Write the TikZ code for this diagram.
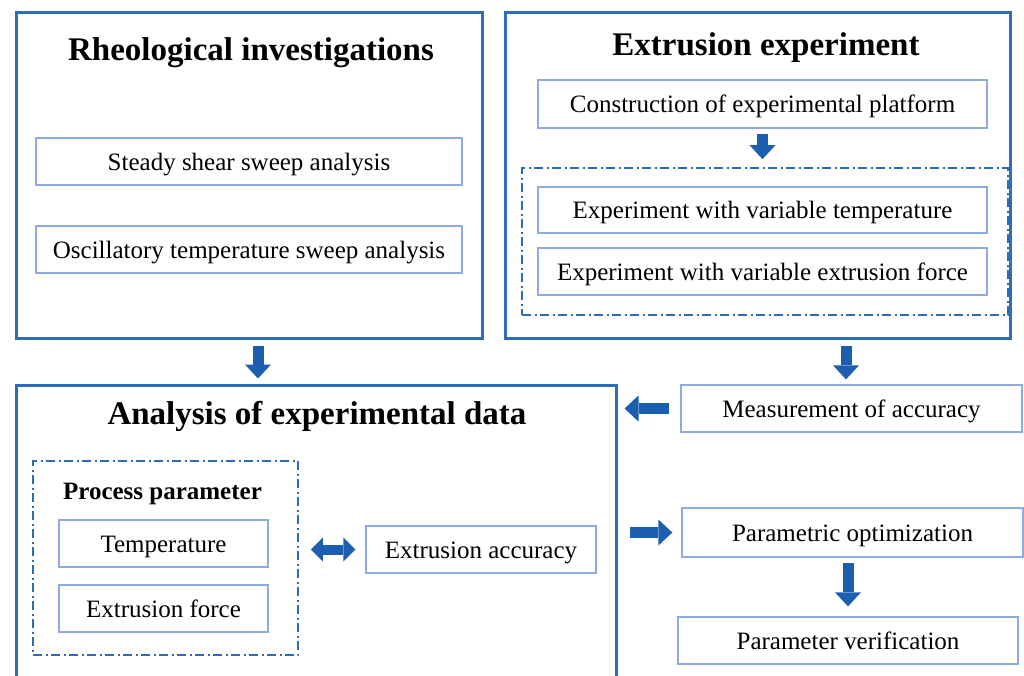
\documentclass[tikz,border=0pt]{standalone}
\usepackage{fontspec}
\setmainfont{Liberation Serif}
\usetikzlibrary{arrows.meta}

\definecolor{frameblue}{RGB}{46,108,182}
\definecolor{boxblue}{RGB}{143,170,220}
\definecolor{arrowblue}{RGB}{28,94,176}

\tikzset{
  outerbox/.style={draw=frameblue, line width=3pt, inner sep=0pt},
  innerbox/.style={draw=boxblue, line width=1.3pt, fill=white, inner sep=0pt,
    font=\fontsize{25}{28}\selectfont, text height=18pt, text depth=1pt},
  dashframe/.style={draw=frameblue, line width=1.8pt, inner sep=0pt,
    dash pattern=on 9pt off 3.5pt on 2pt off 3.5pt},
  bigtitle/.style={font=\fontsize{33}{36}\selectfont\bfseries, anchor=base},
  smalltitle/.style={font=\fontsize{25}{28}\selectfont\bfseries, anchor=base},
  blockarrow/.style={draw=arrowblue, line width=11pt,
    -{Triangle[length=14pt,width=26pt,line width=0pt]}},
  dblarrow/.style={draw=arrowblue, line width=10pt,
    {Triangle[length=12pt,width=24pt,line width=0pt]}-{Triangle[length=12pt,width=24pt,line width=0pt]}},
}

\begin{document}
\begin{tikzpicture}[x=1pt, y=-1pt]
  \fill[white] (0,0) rectangle (1024,675);
  \useasboundingbox (0,0) rectangle (1024,675);

  % upper left: rheology
  \node[outerbox, minimum width=466pt, minimum height=326pt] (rheo) at (249,175) {};
  \node[bigtitle] (rheotitle) at (251,60) {Rheological investigations};
  \node[innerbox, minimum width=426pt, minimum height=47pt] (steady) at (249,161.5) {Steady shear sweep analysis};
  \node[innerbox, minimum width=426pt, minimum height=47pt] (osc) at (249,249.5) {Oscillatory temperature sweep analysis};

  % upper right: extrusion
  \node[outerbox, minimum width=505pt, minimum height=326pt] (expt) at (757.5,175) {};
  \node[bigtitle] (expttitle) at (766,55) {Extrusion experiment};
  \node[innerbox, minimum width=449pt, minimum height=48pt] (constr) at (762.5,104) {Construction of experimental platform};
  \node[dashframe, minimum width=486pt, minimum height=147pt] (eframe) at (765,241.5) {};
  \node[innerbox, minimum width=449pt, minimum height=46pt] (evtemp) at (762.5,210) {Experiment with variable temperature};
  \node[innerbox, minimum width=449pt, minimum height=47pt] (evforce) at (762.5,271.5) {Experiment with variable extrusion force};

  % lower left: analysis
  \node[outerbox, minimum width=600pt, minimum height=305pt] (ana) at (316,537.5) {};
  \node[bigtitle] (anatitle) at (317,424) {Analysis of experimental data};
  \node[dashframe, minimum width=265pt, minimum height=194pt] (pframe) at (165.5,558) {};
  \node[smalltitle] (ptitle) at (162.5,499) {Process parameter};
  \node[innerbox, minimum width=209pt, minimum height=47pt] (temp) at (163.5,543.5) {Temperature};
  \node[innerbox, minimum width=209pt, minimum height=47pt] (force) at (163.5,608.5) {Extrusion force};
  \node[innerbox, minimum width=230pt, minimum height=47pt] (acc) at (481,549.5) {Extrusion accuracy};

  % lower right
  \node[innerbox, minimum width=341pt, minimum height=47pt] (meas) at (851.5,408.5) {Measurement of accuracy};
  \node[innerbox, minimum width=341pt, minimum height=49pt] (popt) at (852.5,532.5) {Parametric optimization};
  \node[innerbox, minimum width=340pt, minimum height=47pt] (pver) at (848,640.5) {Parameter verification};

  % arrows
  \coordinate (xl) at (258,0);
  \coordinate (xr) at (846,0);
  \draw[blockarrow, shorten <=6pt, shorten >=5pt] (rheo.south -| xl) -- (ana.north -| xl);
  \draw[blockarrow, shorten <=6pt, shorten >=5pt] (expt.south -| xr) -- (meas.north -| xr);
  \draw[blockarrow, shorten <=5pt, shorten >=8pt] (constr.south) -- (constr.south |- eframe.north);
  \draw[blockarrow, shorten <=11pt, shorten >=7pt] (meas.west) -- (meas.west -| ana.east);
  \draw[blockarrow, shorten <=12pt, shorten >=9pt] (popt.west -| ana.east) -- (popt.west);
  \draw[blockarrow, shorten <=5pt, shorten >=10pt] (popt.south -| pver) -- (pver.north);
  \draw[dblarrow, shorten <=12pt, shorten >=10pt] (pframe.east |- acc.west) -- (acc.west);
\end{tikzpicture}
\end{document}
